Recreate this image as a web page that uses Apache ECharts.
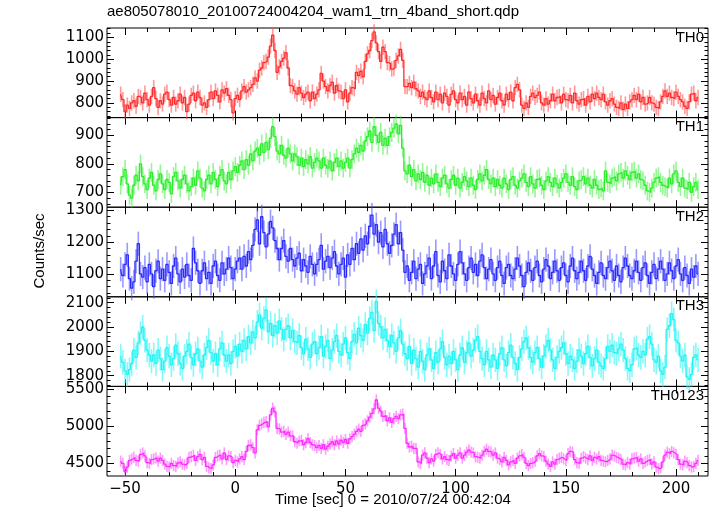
<!DOCTYPE html>
<html><head><meta charset="utf-8">
<script src="https://cdn.jsdelivr.net/npm/echarts@6/dist/echarts.min.js"></script>
<style>html,body{margin:0;padding:0;background:#fff}#c{width:717px;height:516px}</style>
</head><body><div id="c"></div>
<script>
const title = 'ae805078010_20100724004204_wam1_trn_4band_short.qdp';
const xName = 'Time [sec] 0 = 2010/07/24 00:42:04';
const yName = 'Counts/sec';
const tStart = -52, tBin = 1;
const xRange = [-58.2, 214.5];
const xTicks = [-50, 0, 50, 100, 150, 200];
const panelNames = ['TH0', 'TH1', 'TH2', 'TH3', 'TH0123'];

const th0 = [
840,815,760,790,775,800,810,785,830,825,
800,845,815,790,830,870,820,780,810,795,
840,850,815,790,825,795,810,840,800,825,
760,795,835,845,810,850,825,790,800,780,
815,850,820,855,835,805,860,845,865,835,
815,755,820,835,815,855,875,850,860,870,
885,915,900,950,960,985,990,1010,1060,1110,
1040,940,965,990,1005,1030,960,880,875,855,
840,870,845,825,840,850,810,850,820,840,
860,935,900,875,855,880,895,845,880,855,
850,820,860,805,845,870,865,940,925,945,
920,990,1025,1040,1085,1125,1075,1035,990,1055,
1035,985,980,955,960,995,1015,1045,995,875,
875,890,870,895,865,855,830,850,825,815,
855,825,805,850,815,840,800,845,830,790,
840,855,815,800,845,815,830,790,850,820,
800,840,810,790,845,820,800,855,815,835,
795,825,845,810,790,840,815,850,810,870,
885,860,790,775,800,780,830,845,825,835,
850,800,790,820,795,810,840,810,825,830,
800,840,815,810,835,800,845,810,795,815,
820,790,830,805,840,820,845,825,815,840,
805,790,810,820,795,780,775,800,770,795,
775,805,815,835,815,840,805,825,795,800,
825,800,795,780,775,805,830,855,830,845,
825,820,850,830,815,805,785,775,805,840,
845,810,825];

const th1 = [
725,755,780,730,690,680,725,760,740,800,
755,730,710,750,770,725,705,745,765,730,
710,745,735,695,755,770,740,715,745,760,
730,705,720,750,725,775,750,715,705,745,
760,730,770,745,720,760,780,740,730,770,
745,775,790,770,795,810,780,815,795,835,
810,845,855,830,870,840,875,850,890,930,
895,845,835,865,830,820,855,835,810,835,
825,795,820,790,815,800,825,785,805,820,
810,785,820,795,785,810,775,805,820,790,
810,785,805,820,785,815,835,855,840,865,
845,880,895,915,875,930,900,875,910,865,
890,865,895,910,925,940,905,935,855,775,
765,795,755,780,740,765,745,770,735,760,
725,750,730,765,735,720,750,760,730,715,
745,760,725,750,715,735,755,740,720,750,
725,710,745,765,740,760,780,745,730,750,
720,745,725,715,750,730,710,745,755,725,
715,740,750,765,735,720,755,730,715,745,
750,725,710,740,755,735,720,750,730,715,
735,750,765,735,725,755,720,710,740,745,
755,730,750,725,715,745,725,710,715,705,
775,735,730,750,755,740,765,770,750,775,
760,745,770,775,750,765,745,740,725,705,
700,715,735,750,755,735,725,720,715,750,
730,765,775,735,720,750,715,710,735,700,
720,735,710];

const th2 = [
1115,1095,1130,1160,1085,1055,1075,1140,1195,1100,
1090,1120,1075,1130,1100,1060,1110,1140,1085,1115,
1080,1130,1105,1070,1125,1150,1100,1075,1115,1090,
1130,1095,1080,1180,1135,1110,1070,1110,1135,1085,
1105,1070,1125,1140,1095,1080,1135,1100,1115,1150,
1120,1085,1115,1140,1150,1115,1155,1125,1170,1145,
1190,1240,1270,1195,1280,1230,1185,1225,1265,1245,
1205,1180,1145,1180,1205,1155,1140,1180,1145,1125,
1150,1165,1110,1145,1125,1105,1155,1130,1100,1130,
1145,1190,1115,1140,1155,1120,1150,1170,1125,1100,
1130,1150,1090,1160,1130,1180,1145,1195,1165,1210,
1175,1220,1195,1250,1285,1225,1255,1200,1230,1185,
1240,1195,1165,1190,1225,1255,1195,1230,1175,1105,
1125,1080,1105,1140,1085,1115,1130,1070,1100,1125,
1150,1085,1125,1170,1095,1075,1140,1110,1085,1160,
1125,1100,1080,1130,1170,1135,1100,1080,1120,1150,
1105,1130,1095,1140,1160,1120,1085,1115,1145,1100,
1080,1120,1140,1095,1070,1120,1130,1095,1085,1115,
1150,1125,1095,1060,1105,1135,1110,1080,1120,1140,
1095,1075,1115,1145,1125,1085,1105,1140,1110,1080,
1120,1135,1095,1075,1125,1150,1110,1085,1105,1140,
1110,1080,1125,1155,1115,1095,1070,1105,1135,1095,
1085,1120,1140,1110,1080,1125,1095,1075,1120,1150,
1125,1095,1085,1110,1140,1105,1080,1120,1135,1095,
1070,1105,1130,1085,1115,1140,1115,1080,1100,1135,
1110,1085,1125,1145,1100,1080,1120,1095,1070,1115,
1090,1125,1100];

const th3 = [
1880,1855,1820,1805,1825,1850,1905,1875,1935,1975,
2000,1945,1905,1885,1860,1885,1850,1905,1870,1825,
1860,1915,1880,1845,1870,1925,1890,1850,1830,1880,
1900,1930,1875,1845,1890,1910,1860,1835,1885,1915,
1945,1895,1860,1890,1845,1910,1935,1885,1860,1885,
1850,1900,1920,1880,1930,1900,1945,1910,1960,1935,
1980,1955,2020,2050,1995,2035,2070,1980,2015,1965,
2005,1975,2025,1990,1950,1990,2005,1955,1985,1940,
1935,1965,1915,1890,1950,1910,1875,1930,1940,1890,
1915,1960,1880,1920,1945,1870,1905,1940,1965,1900,
1885,1930,1955,1895,1870,1940,1970,1935,1995,1965,
1945,2010,1975,2035,2060,1985,2105,2015,2000,1955,
1990,1945,1920,1965,1935,1900,1955,1985,1930,1890,
1870,1920,1850,1905,1870,1835,1900,1860,1825,1885,
1910,1865,1830,1895,1855,1910,1940,1875,1845,1880,
1850,1900,1865,1825,1885,1915,1855,1895,1935,1880,
1905,1945,1960,1900,1870,1845,1900,1865,1835,1885,
1865,1830,1890,1915,1865,1840,1895,1925,1875,1850,
1825,1875,1910,1940,1955,1915,1875,1855,1895,1915,
1870,1835,1880,1920,1945,1905,1865,1830,1875,1900,
1915,1935,1890,1850,1880,1865,1830,1860,1905,1880,
1850,1890,1920,1875,1840,1870,1905,1855,1840,1830,
1870,1920,1900,1925,1895,1890,1910,1930,1905,1870,
1830,1820,1845,1910,1915,1885,1875,1900,1885,1950,
1960,1930,1865,1855,1880,1820,1805,1835,1990,2005,
2055,2030,1945,1935,1880,1860,1885,1795,1785,1805,
1875,1885,1865];

const th0123 = [
4530,4500,4390,4450,4540,4560,4580,4540,4530,4620,
4640,4600,4510,4500,4550,4560,4575,4530,4570,4540,
4490,4460,4450,4500,4470,4460,4505,4520,4490,4480,
4500,4580,4590,4610,4540,4590,4620,4550,4580,4460,
4440,4430,4480,4580,4600,4610,4560,4640,4550,4600,
4590,4510,4540,4520,4560,4590,4550,4660,4740,4750,
4710,4640,4950,5010,5030,5050,5060,4990,5150,5240,
5190,4970,4960,4920,4930,4890,4920,4870,4870,4790,
4770,4800,4810,4750,4780,4830,4780,4750,4740,4710,
4740,4700,4750,4690,4730,4760,4790,4750,4800,4760,
4810,4780,4820,4770,4830,4860,4890,4930,4960,4930,
5010,5030,5070,5120,5170,5230,5350,5240,5200,5130,
5140,5070,5110,5050,5100,5130,5100,5150,5160,4970,
4770,4720,4730,4700,4700,4520,4500,4610,4640,4570,
4510,4560,4530,4620,4640,4620,4560,4590,4550,4540,
4600,4630,4570,4610,4640,4570,4610,4650,4680,4650,
4640,4590,4580,4570,4610,4660,4690,4660,4650,4610,
4640,4570,4550,4520,4580,4540,4480,4520,4540,4500,
4570,4600,4620,4580,4500,4470,4500,4510,4530,4600,
4630,4600,4590,4530,4490,4460,4520,4490,4550,4570,
4580,4560,4540,4630,4660,4650,4550,4510,4500,4570,
4590,4570,4550,4600,4540,4580,4560,4590,4540,4530,
4520,4540,4560,4610,4600,4580,4570,4550,4490,4480,
4510,4490,4560,4570,4580,4530,4560,4500,4520,4540,
4550,4490,4520,4450,4430,4440,4520,4610,4650,4630,
4660,4640,4620,4550,4490,4480,4530,4510,4470,4450,
4460,4500,4540];

const errors = [35, 33, 38, 50, 75];
const yRanges = [[733, 1143], [648, 962], [1028, 1310], [1756, 2124], [4331, 5532]];
const yTicks = [[800, 900, 1000, 1100], [700, 800, 900], [1100, 1200, 1300], [1800, 1900, 2000, 2100], [4500, 5000, 5500]];
const yMinorStep = [20, 20, 20, 20, 100];
const lineColors = ['#ff2a2a', '#2aee2a', '#2a2aff', '#22f4f4', '#ff2aff'];
const barColors = ['rgba(255,70,70,0.55)', 'rgba(60,240,60,0.55)', 'rgba(70,70,255,0.55)', 'rgba(50,245,245,0.6)', 'rgba(255,70,255,0.55)'];
const allSeries = [th0, th1, th2, th3, th0123];

const chart = echarts.init(document.getElementById('c'), null, {renderer: 'canvas'});
const LEFT = 107, RIGHT = 9, TOP = 28, PH = 89.6;
const tickFont = 'DejaVu Sans';
const textFont = 'Liberation Sans';

function rangeVals(a, b, s) { const r = []; for (let v = Math.ceil(a / s) * s; v <= b; v += s) r.push(v); return r; }
const xMinor = rangeVals(xRange[0], xRange[1], 10);
const fmtX = v => v < 0 ? '\u2212' + (-v) : String(v);
const fmtY = v => String(v);

const grids = [], xAxes = [], yAxes = [], series = [], graphics = [];
for (let i = 0; i < 5; i++) {
  const top = TOP + i * PH;
  grids.push({left: LEFT, right: RIGHT, top: top, height: PH, show: true, borderColor: '#000', borderWidth: 1, backgroundColor: 'transparent'});
  const xBase = {gridIndex: i, type: 'value', min: xRange[0], max: xRange[1], axisLine: {show: false, onZero: false}, splitLine: {show: false}};
  xAxes.push(Object.assign({}, xBase, {position: 'bottom',
    axisTick: {inside: true, length: 7, customValues: xTicks, lineStyle: {color: '#000', width: 1}},
    axisLabel: {show: i === 4, customValues: xTicks, formatter: fmtX, color: '#000', fontSize: 15, fontFamily: tickFont, margin: 6}}));
  xAxes.push(Object.assign({}, xBase, {position: 'bottom',
    axisTick: {inside: true, length: 4, customValues: xMinor, lineStyle: {color: '#000', width: 1}},
    axisLabel: {show: false, customValues: xMinor}}));
  xAxes.push(Object.assign({}, xBase, {position: 'top',
    axisTick: {inside: true, length: 7, customValues: xTicks, lineStyle: {color: '#000', width: 1}},
    axisLabel: {show: false, customValues: xTicks}}));
  xAxes.push(Object.assign({}, xBase, {position: 'top',
    axisTick: {inside: true, length: 4, customValues: xMinor, lineStyle: {color: '#000', width: 1}},
    axisLabel: {show: false, customValues: xMinor}}));

  const yr = yRanges[i];
  const yMinor = rangeVals(yr[0], yr[1], yMinorStep[i]);
  const yBase = {gridIndex: i, type: 'value', min: yr[0], max: yr[1], axisLine: {show: false, onZero: false}, splitLine: {show: false}};
  yAxes.push(Object.assign({}, yBase, {position: 'left',
    axisTick: {inside: true, length: 7, customValues: yTicks[i], lineStyle: {color: '#000', width: 1}},
    axisLabel: {show: true, customValues: yTicks[i], formatter: fmtY, color: '#000', fontSize: 15, fontFamily: tickFont, margin: 3}}));
  yAxes.push(Object.assign({}, yBase, {position: 'left',
    axisTick: {inside: true, length: 3.5, customValues: yMinor, lineStyle: {color: '#000', width: 1}},
    axisLabel: {show: false, customValues: yMinor}}));
  yAxes.push(Object.assign({}, yBase, {position: 'right',
    axisTick: {inside: true, length: 7, customValues: yTicks[i], lineStyle: {color: '#000', width: 1}},
    axisLabel: {show: false, customValues: yTicks[i]}}));
  yAxes.push(Object.assign({}, yBase, {position: 'right',
    axisTick: {inside: true, length: 3.5, customValues: yMinor, lineStyle: {color: '#000', width: 1}},
    axisLabel: {show: false, customValues: yMinor}}));

  const vals = allSeries[i];
  const err = errors[i];
  const barColor = barColors[i];
  series.push({
    type: 'custom', xAxisIndex: 4 * i, yAxisIndex: 4 * i, z: 2, silent: true, animation: false,
    encode: {x: 0, y: 1},
    data: vals.map((v, k) => [tStart + k * tBin, v, err]),
    renderItem: function (params, api) {
      const x = api.value(0), y = api.value(1), e = api.value(2);
      const p1 = api.coord([x, y - e]), p2 = api.coord([x, y + e]);
      return {type: 'line', shape: {x1: p1[0], y1: p1[1], x2: p2[0], y2: p2[1]}, style: {stroke: barColor, lineWidth: 1.6}};
    }
  });
  series.push({
    type: 'line', xAxisIndex: 4 * i, yAxisIndex: 4 * i, z: 3, silent: true, animation: false,
    step: 'middle', symbol: 'none',
    data: vals.map((v, k) => [tStart + k * tBin, v]),
    lineStyle: {color: lineColors[i], width: 1.3}
  });

  graphics.push({type: 'text', x: 704, y: top + 2, z: 10,
    style: {text: panelNames[i], fill: '#000', font: '15px "' + textFont + '"', textAlign: 'right', textVerticalAlign: 'top', verticalAlign: 'top'}});
}

graphics.push({type: 'text', x: 107, y: 4, z: 10,
  style: {text: title, fill: '#000', font: '15px "' + textFont + '"', textAlign: 'left', textVerticalAlign: 'top', verticalAlign: 'top'}});
graphics.push({type: 'text', x: 393, y: 500, z: 10,
  style: {text: xName, fill: '#000', font: '15px "' + textFont + '"', textAlign: 'center', textVerticalAlign: 'middle', verticalAlign: 'middle'}});
graphics.push({type: 'text', x: 40, y: 251, rotation: Math.PI / 2, z: 10,
  style: {text: yName, fill: '#000', font: '15px "' + textFont + '"', textAlign: 'center', textVerticalAlign: 'middle', verticalAlign: 'middle'}});

chart.setOption({
  backgroundColor: '#fff',
  animation: false,
  grid: grids,
  xAxis: xAxes,
  yAxis: yAxes,
  series: series,
  graphic: graphics
});
</script>
</body></html>
